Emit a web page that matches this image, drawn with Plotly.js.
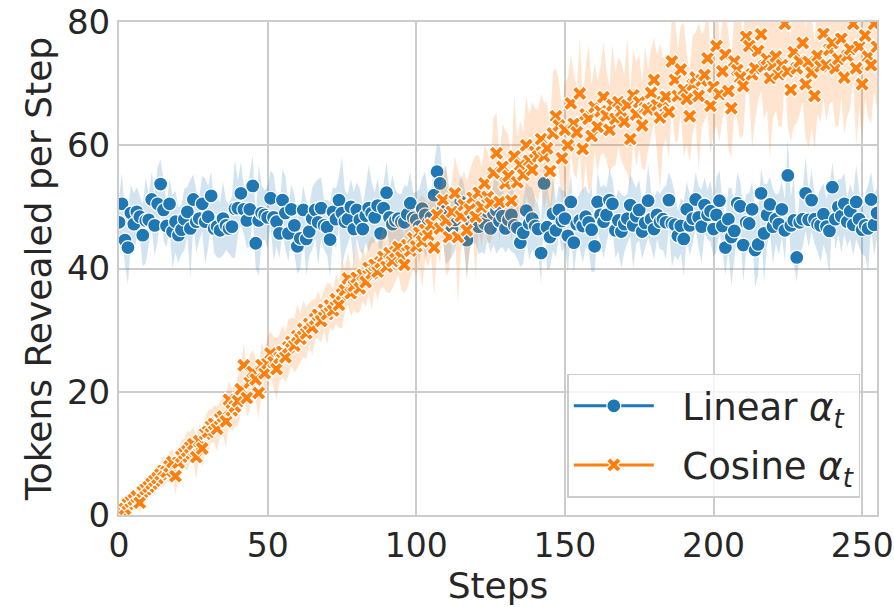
<!DOCTYPE html>
<html>
<head>
<meta charset="utf-8">
<script src="https://cdn.plot.ly/plotly-3.0.1.min.js"></script>
<style>html,body{margin:0;padding:0;background:#fff;}#chart{width:894px;height:607px;}</style>
</head>
<body>
<div id="chart"></div>
<script>
// Mean tokens revealed per step, Linear alpha_t schedule (steps 0..255)
const linearMean = [
47.5,50.5,44.6,43.4,49.0,47.2,49.2,48.4,45.4,47.8,47.9,51.2,47.0,50.5,53.7,49.5,
46.9,50.5,46.0,47.6,45.4,46.3,48.0,49.2,46.5,51.2,47.6,48.1,50.5,47.6,48.4,51.8,
46.5,46.8,46.2,48.1,47.0,46.5,46.8,49.7,49.8,52.2,49.6,47.8,49.6,53.4,44.1,47.8,
49.0,48.7,48.3,51.4,48.3,47.6,45.7,51.1,49.0,45.7,49.6,47.0,43.6,44.9,49.5,44.8,
46.0,48.1,49.5,47.5,49.8,47.0,46.7,44.7,49.2,48.0,51.1,49.0,47.6,48.0,50.0,46.4,
49.5,47.9,46.4,48.6,49.8,49.0,48.3,50.2,45.7,49.8,52.3,48.3,47.2,47.8,48.1,47.6,
47.5,48.8,50.6,48.2,47.9,46.8,49.7,48.7,47.4,48.3,51.9,55.7,53.8,49.5,48.6,47.3,
46.4,47.9,49.2,50.8,48.7,44.6,47.5,48.3,49.0,46.8,48.7,47.3,49.2,46.5,48.9,49.4,
47.7,48.5,46.5,47.9,48.7,47.0,46.6,44.2,45.8,49.4,47.3,48.1,46.9,46.4,42.5,53.8,
46.7,45.1,48.9,46.2,49.5,47.7,48.1,45.3,50.8,44.2,47.2,47.8,46.9,48.4,47.5,46.3,
43.6,50.8,48.7,47.6,48.7,51.1,50.5,46.2,47.8,46.0,47.2,48.1,50.3,47.0,48.5,49.5,
46.0,47.4,51.0,48.0,46.4,48.7,47.6,48.0,47.5,51.1,47.3,47.1,45.3,46.9,44.8,49.6,
47.0,48.1,51.2,48.3,46.8,50.3,48.7,49.3,46.4,48.7,51.0,46.9,43.4,48.0,45.1,46.1,
50.6,50.1,43.8,47.5,47.3,49.6,43.0,43.9,52.2,45.7,48.7,50.4,46.8,48.0,47.2,49.6,
46.2,55.1,47.0,47.8,41.8,47.5,48.0,52.2,47.9,51.1,48.0,47.2,47.0,48.8,46.8,46.1,
53.2,48.0,50.0,48.5,50.5,47.6,49.3,47.1,50.8,48.0,46.3,47.0,46.5,51.2,47.1,49.0
];
// Half-width of the shaded band, Linear
const linearSpread = [
4,5,4,6,4.5,5,4,3.5,5,7,4,4.5,5,6,4,5,
3.5,4,6,5,4.5,4,5,4,8,4,5,3.5,4.5,7,5,4,
4,5,4.5,6,4,4,5,8,4.5,5,4,4.5,6,5,4,9,
4.5,4,5,4.5,7,4,4,5,6,4.5,4,5,4.5,5,4,6,
4,5,4.5,7,5,4,4.5,6,4,5,4,9,5,4,4.5,6,
4.5,5,4,4.5,7,5,4,4.5,6,4,5,4.5,8,5,4,4.5,
6,4.5,5,4,4.5,6,5,7,4.5,4,5,4.5,6,5,8,6,
4.5,5,4,4.5,5,6,4.5,4,5,4.5,6,5,4.5,4,5,7,
4.5,5,4,4.5,6,4.5,5,4,5,4.5,6,5,4.5,4,5,4.5,
7,5,6,4.5,4,5,4.5,6,4.5,5,4,4.5,6,5,4.5,7,
4,5,4.5,6,4.5,5,4,4.5,5,6,4.5,4,5,7,4.5,5,
4.5,4,6,4.5,5,4,4.5,5,6,4.5,7,5,4,4.5,6,4.5,
5,4,4.5,5,6,4.5,4,5,4.5,6,5,4,4.5,5,8,4.5,
5,4,6,4.5,5,4.5,6,5,4,8,5,4.5,6,4,5,4.5,
5,6,4.5,7,4,5,4.5,6,4.5,5,4,4.5,6,5,4.5,7,
4,5,4.5,6,5,4,4.5,5,6,4.5,4,5,7,4.5,5,4
];
// Mean tokens revealed per step, Cosine alpha_t schedule
const cosineMean = [
0.3,0.6,1.0,1.8,2.2,2.5,3.0,2.0,3.8,4.2,4.6,5.1,5.6,6.0,6.6,7.2,
7.0,7.9,8.6,6.3,8.5,9.5,10.0,10.4,11.0,11.5,9.4,12.0,10.8,13.2,13.5,14.4,
14.8,14.0,15.6,16.0,15.2,18.7,17.0,17.6,18.5,20.4,24.3,19.0,21.5,23.2,22.0,19.8,
24.3,23.0,24.6,26.2,24.8,23.7,25.5,26.5,25.6,27.2,28.1,27.5,29.0,28.6,30.2,29.5,
31.0,30.4,31.8,32.5,31.5,33.3,32.6,34.0,33.2,35.0,34.1,35.8,36.5,38.4,36.0,37.2,
38.5,36.8,39.0,37.8,40.1,39.2,40.6,39.5,41.0,41.9,40.3,42.5,41.2,42.7,43.5,41.8,
40.6,43.8,42.9,44.9,43.6,45.8,44.4,46.3,45.4,47.1,43.4,48.7,46.5,51.1,47.8,45.1,
49.2,52.2,45.1,48.5,50.3,46.2,49.6,51.5,48.4,52.3,50.0,53.8,51.6,50.6,55.5,58.7,
50.8,56.5,53.8,55.0,51.0,58.2,54.0,56.8,55.2,60.0,57.5,56.0,58.9,58.2,61.0,58.2,
59.5,55.8,61.9,64.7,63.2,57.9,62.5,60.0,66.8,63.5,62.1,68.4,59.4,65.0,64.3,61.5,
66.2,63.0,65.5,67.8,64.8,62.5,66.5,64.3,67.0,65.5,63.8,66.5,61.0,68.1,65.0,67.0,
63.2,66.0,65.8,68.5,70.6,66.5,64.5,67.0,67.9,65.4,73.6,70.6,68.0,72.3,69.0,67.5,
64.7,69.8,71.0,68.0,70.5,71.4,74.1,66.4,69.5,76.1,68.3,72.0,74.7,68.8,66.0,73.6,
72.2,71.0,69.6,77.6,76.1,71.5,72.5,75.3,78.0,72.8,74.0,70.9,73.0,74.4,71.5,73.0,
79.7,72.0,69.0,75.1,72.5,73.6,76.6,69.9,73.5,71.8,68.0,74.5,72.8,78.1,73.0,75.5,
76.6,72.5,74.0,77.3,71.0,74.5,75.6,79.7,72.5,76.0,69.9,77.8,74.4,73.0,79.7,76.0
];
// Half-width of the shaded band, Cosine
const cosineSpread = [
0.5,0.8,1,1.2,1,1.5,1.2,1.8,1.5,2,1.6,1.4,2.2,1.8,2,2.5,
1.8,2.4,2,3,2.2,2.6,2.4,3.2,2.5,2.8,3.5,2.6,3,2.8,3.4,2.7,
3,3.6,2.8,3.2,4.2,3,3.5,3.3,4,3.4,3.8,3.2,4.5,3.6,3.4,4.2,
3.8,3.5,4.4,3.6,4,5,3.8,4.2,4,4.6,3.9,4.4,5.2,4,4.6,4.2,
3.4,4.5,3.2,3.8,3.5,3.3,5,3.6,3.4,4,3.7,5.5,3.5,4.2,3.8,4,
5.8,3.8,4.4,4,4.2,6,4,4.6,4.3,5,4.1,6.5,4.4,4.8,4.5,5.2,
4.6,7,4.5,5,4.8,5.4,7.5,4.9,5.2,5,8,5.3,5.8,5.1,9,5.5,
5.6,6,11,5.8,5.5,8,6.2,5.9,10,6,6.5,6.2,7.5,6.4,9,6.6,
6.5,7,8.5,6.8,6.6,10,7,7.2,6.9,8,7.4,11,7.1,7.5,7.3,8.6,
7.6,7.4,10,7.8,7.2,8,7.7,11,7.9,8.2,7.5,9,8.1,7.8,12,8.2,
7,7.5,7.2,9,7.4,7,10,7.6,7.3,8,7.5,11,7.8,7.4,8.5,7.7,
7,10,6.6,7.2,6.9,8,12,7.1,6.8,7.5,7.2,10,7.4,7,11,7.3,
7.5,8,7.2,12,7.6,7.4,9,7.8,7.5,13,7.7,8,7.6,9.5,8,7.8,
8.2,10,7.9,8.5,8.1,12,8.4,8.2,9,8.6,8.3,13,8.5,8.8,8.4,10,
8.7,9,8.5,12,8.9,8.6,9.5,8.8,14,9,8.7,9.4,9.1,10.5,9.2,8.9,
9.5,9.3,11,9.4,9.1,10,9.6,9.2,13,9.7,9.4,10.2,9.8,9.5,11,9.9
];
const xTicks = [0, 50, 100, 150, 200, 250];
const yTicks = [0, 20, 40, 60, 80];
const seriesNames = ['Linear <i>α</i><sub><i>t</i></sub>', 'Cosine <i>α</i><sub><i>t</i></sub>'];

const BLUE = '#1f77b4', ORANGE = '#ff7f0e';
const n = Math.min(linearMean.length, linearSpread.length, cosineMean.length, cosineSpread.length);
const steps = Array.from({length: n}, (_, i) => i);
const lo = (m, s) => m.slice(0, n).map((v, i) => v - s[i]);
const hi = (m, s) => m.slice(0, n).map((v, i) => v + s[i]);

function band(mean, spread, fill) {
  return [
    {x: steps, y: hi(mean, spread), mode: 'lines', line: {width: 0, color: fill}, showlegend: false, hoverinfo: 'skip'},
    {x: steps, y: lo(mean, spread), mode: 'lines', line: {width: 0, color: fill}, fill: 'tonexty', fillcolor: fill, showlegend: false, hoverinfo: 'skip'}
  ];
}
const GAP = '\u00a0\u00a0';
const traces = [
  ...band(linearMean, linearSpread, 'rgba(31,119,180,0.2)'),
  {x: steps, y: linearMean.slice(0, n), mode: 'markers', showlegend: false,
   marker: {symbol: 'circle', size: 14, color: BLUE, line: {color: '#fff', width: 1.2}}},
  ...band(cosineMean, cosineSpread, 'rgba(255,127,14,0.2)'),
  {x: steps, y: cosineMean.slice(0, n), mode: 'markers', showlegend: false,
   marker: {symbol: 'x', size: 13, color: ORANGE, line: {color: '#fff', width: 1.2}}},
  {x: [null], y: [null], mode: 'lines+markers', name: GAP + seriesNames[0], legendgroup: 'a',
   line: {color: BLUE, width: 3}, marker: {symbol: 'circle', size: 14, color: BLUE, line: {color: '#fff', width: 1.2}}},
  {x: [null], y: [null], mode: 'lines+markers', name: GAP + seriesNames[1], legendgroup: 'b',
   line: {color: ORANGE, width: 3}, marker: {symbol: 'x', size: 13, color: ORANGE, line: {color: '#fff', width: 1.2}}}
];

const font = {family: 'DejaVu Sans, sans-serif', color: '#262626'};
const layout = {
  width: 894, height: 607,
  margin: {l: 119, r: 17, t: 22, b: 92},
  paper_bgcolor: '#fff', plot_bgcolor: '#fff',
  font: {family: font.family, color: font.color, size: 34},
  showlegend: true,
  xaxis: {
    range: [0, 255], tickvals: xTicks, ticktext: xTicks.map(String),
    showgrid: true, gridcolor: '#cccccc', gridwidth: 2,
    showline: true, mirror: true, linecolor: '#cccccc', linewidth: 2,
    zeroline: false, ticks: '', ticklabeloverflow: 'allow',
    tickfont: {size: 33, family: font.family, color: font.color},
    title: {text: 'Steps', font: {size: 36, family: font.family, color: font.color}, standoff: 8}
  },
  yaxis: {
    range: [0, 80], tickvals: yTicks, ticktext: yTicks.map(String),
    showgrid: true, gridcolor: '#cccccc', gridwidth: 2,
    showline: true, mirror: true, linecolor: '#cccccc', linewidth: 2,
    zeroline: false, ticks: '',
    tickfont: {size: 34, family: font.family, color: font.color},
    title: {text: 'Tokens Revealed per Step', font: {size: 36, family: font.family, color: font.color}, standoff: 4}
  },
  legend: {
    x: 0.978, xanchor: 'right', y: 0.035, yanchor: 'bottom',
    bgcolor: 'rgba(255,255,255,0.8)', bordercolor: '#cccccc', borderwidth: 1.5,
    font: {size: 37, family: font.family, color: font.color},
    traceorder: 'grouped', tracegroupgap: 8, itemwidth: 80
  }
};
Plotly.newPlot('chart', traces, layout, {displayModeBar: false, staticPlot: true});
</script>
</body>
</html>
